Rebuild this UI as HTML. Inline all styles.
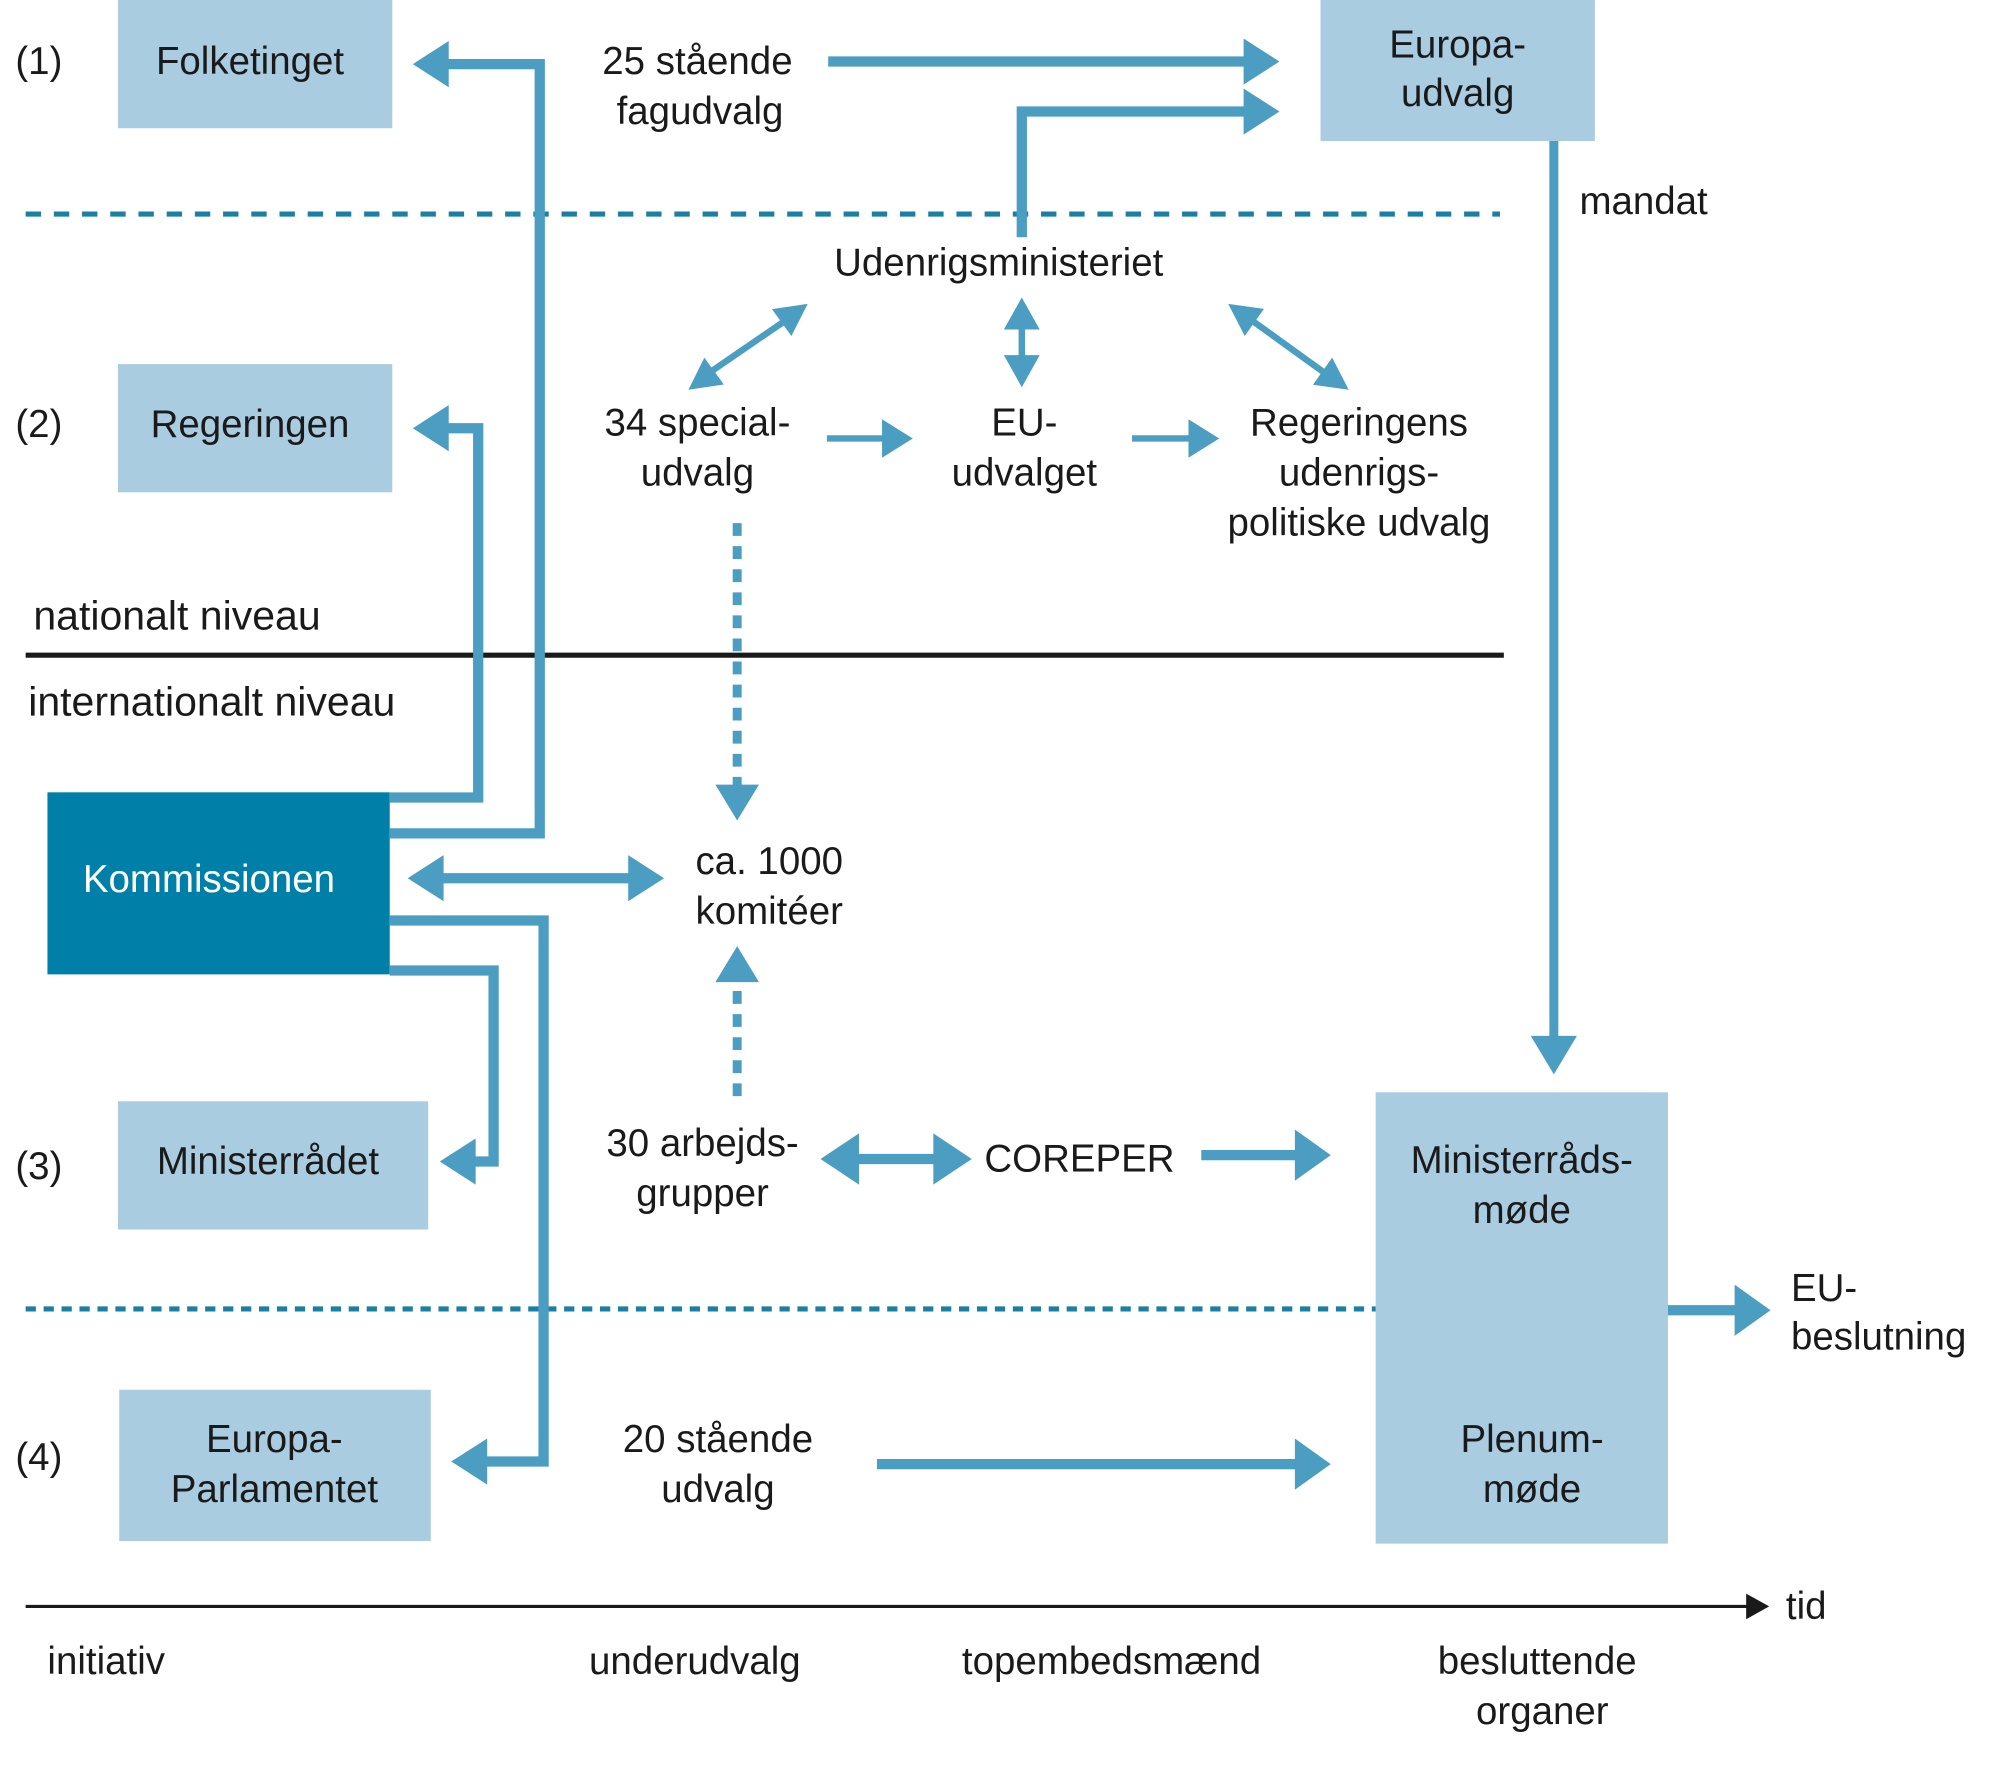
<!DOCTYPE html>
<html><head><meta charset="utf-8"><style>
html,body{margin:0;padding:0;background:#fff;}
svg{display:block;}
text{font-family:"Liberation Sans",sans-serif;font-size:30px;fill:#1a1a1a;}
</style></head><body>
<svg width="2000" height="1774" viewBox="0 0 1560 1383.7" xmlns="http://www.w3.org/2000/svg">
<g fill="#a9cce0">
<rect x="92" y="0" width="214" height="100"/>
<rect x="92" y="284" width="214" height="100"/>
<rect x="1030" y="0" width="214" height="110"/>
<rect x="92" y="859" width="242" height="100"/>
<rect x="93" y="1084" width="243" height="118"/>
<rect x="1073" y="852" width="228" height="352"/>
</g>
<rect x="37" y="618" width="267" height="142" fill="#0080a8"/>
<g stroke="#1a80a3" stroke-width="4">
<line x1="20" y1="167" x2="1170" y2="167" stroke-dasharray="12,10"/>
<line x1="20" y1="1021" x2="1073" y2="1021" stroke-dasharray="8,6"/>
</g>
<line x1="20" y1="511" x2="1173" y2="511" stroke="#1a1a1a" stroke-width="4"/>
<g fill="none" stroke="#4b9dc2" stroke-width="8">
<path d="M304,650 H421 V50 H345"/>
<path d="M304,622 H373 V334 H345"/>
<path d="M304,757 H385 V906 H365"/>
<path d="M304,718 H424 V1140 H375"/>
<path d="M340,685 H496"/>
<path d="M646,48 H975"/>
<path d="M797,185 V87 H975"/>
<path d="M660,904 H738"/>
<path d="M937,901 H1012"/>
<path d="M684,1142 H1012"/>
<path d="M1301,1022 H1355"/>
</g>
<path d="M1212,110 V815" stroke="#4b9dc2" stroke-width="7" fill="none"/>
<g stroke="#4b9dc2" stroke-width="5" fill="none">
<line x1="550" y1="293" x2="617" y2="247"/>
<line x1="971" y1="246" x2="1039" y2="295"/>
<line x1="797" y1="255" x2="797" y2="280"/>
<line x1="645" y1="342" x2="690" y2="342"/>
<line x1="883" y1="342" x2="929" y2="342"/>
</g>
<g stroke="#4b9dc2" stroke-width="7" stroke-dasharray="10,8" fill="none">
<line x1="575" y1="408" x2="575" y2="615"/>
<line x1="575" y1="855" x2="575" y2="765"/>
</g>
<g fill="#4b9dc2">
<polygon points="322,50 350,32 350,68"/>
<polygon points="322,334 350,316 350,352"/>
<polygon points="343,906 371,888 371,924"/>
<polygon points="352,1140 380,1122 380,1158"/>
<polygon points="318,685 346,667 346,703"/>
<polygon points="518,685 490,667 490,703"/>
<polygon points="998,48 970,30 970,66"/>
<polygon points="998,87 970,69 970,105"/>
<polygon points="1212,838 1194,808 1230,808"/>
<polygon points="537,304 564.6,299.9 549.4,278.9"/>
<polygon points="630,237 617.3,262.1 602.1,241.1"/>
<polygon points="958,237 970.9,262.1 985.9,240.9"/>
<polygon points="1052,304 1024.1,300.1 1039.1,278.9"/>
<polygon points="797,232 783,257 811,257"/>
<polygon points="797,302 783,277 811,277"/>
<polygon points="712,342 688,327 688,357"/>
<polygon points="951,342 927,327 927,357"/>
<polygon points="575,640 558,612 592,612"/>
<polygon points="575,738 558,766 592,766"/>
<polygon points="640,904 670,884 670,924"/>
<polygon points="758,904 728,884 728,924"/>
<polygon points="1038,901 1010,881 1010,921"/>
<polygon points="1038,1142 1010,1122 1010,1162"/>
<polygon points="1381,1022 1353,1002 1353,1042"/>
</g>
<line x1="20" y1="1253" x2="1365" y2="1253" stroke="#1a1a1a" stroke-width="2.5"/>
<polygon points="1380,1253 1362,1243 1362,1263" fill="#1a1a1a"/>
<g dominant-baseline="central">
<text x="12" y="48">(1)</text>
<text x="12" y="331">(2)</text>
<text x="12" y="910">(3)</text>
<text x="12" y="1137">(4)</text>
<g text-anchor="middle">
<text x="195" y="48">Folketinget</text>
<text x="195" y="331">Regeringen</text>
<text x="1137" y="35">Europa-</text>
<text x="1137" y="73">udvalg</text>
<text x="544" y="48">25 stående</text>
<text x="546" y="87">fagudvalg</text>
<text x="779" y="205">Udenrigsministeriet</text>
<text x="544" y="330">34 special-</text>
<text x="544" y="369">udvalg</text>
<text x="799" y="330">EU-</text>
<text x="799" y="369">udvalget</text>
<text x="1060" y="330">Regeringens</text>
<text x="1060" y="369">udenrigs-</text>
<text x="1060" y="408">politiske udvalg</text>
<text x="163" y="686" style="fill:#fff">Kommissionen</text>
<text x="600" y="672">ca. 1000</text>
<text x="600" y="711">komitéer</text>
<text x="209" y="906">Ministerrådet</text>
<text x="548" y="892">30 arbejds-</text>
<text x="548" y="931">grupper</text>
<text x="842" y="904">COREPER</text>
<text x="1187" y="905">Ministerråds-</text>
<text x="1187" y="944">møde</text>
<text x="214" y="1123">Europa-</text>
<text x="214" y="1162">Parlamentet</text>
<text x="560" y="1123">20 stående</text>
<text x="560" y="1162">udvalg</text>
<text x="1195" y="1123">Plenum-</text>
<text x="1195" y="1162">møde</text>
<text x="542" y="1296">underudvalg</text>
<text x="867" y="1296">topembedsmænd</text>
<text x="1199" y="1296">besluttende</text>
<text x="1203" y="1335">organer</text>
</g>
<text x="1232" y="157">mandat</text>
<text x="26" y="480" style="font-size:32px">nationalt niveau</text>
<text x="22" y="547" style="font-size:32px">internationalt niveau</text>
<text x="1397" y="1005">EU-</text>
<text x="1397" y="1043">beslutning</text>
<text x="1393" y="1253">tid</text>
<text x="37" y="1296">initiativ</text>
</g>
</svg>
</body></html>
